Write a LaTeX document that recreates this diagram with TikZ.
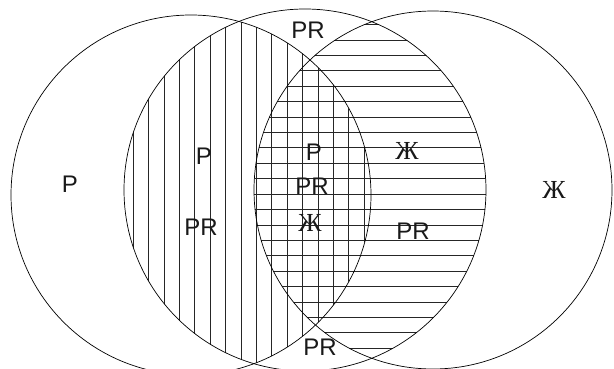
\documentclass[tikz,border=0pt]{standalone}
\usepackage{fontspec}
\setmainfont{Liberation Sans}
\newfontfamily\zhefont{Liberation Serif}

\tikzset{
  ring/.style={draw=black, line width=0.7pt},
  hatch/.style={draw=black!85, line width=0.6pt},
  lbl/.style={inner sep=0pt, text=black!90, font=\fontsize{24}{24}\selectfont},
  zhe/.style={inner sep=0pt, text=black!90, font=\zhefont\fontsize{26}{26}\selectfont},
}

\begin{document}
\begin{tikzpicture}[x=1pt, y=-1pt]
  \useasboundingbox (0,0) rectangle (614,369);
  \fill[white] (0,0) rectangle (614,369);
  \clip (0,0) rectangle (614,369);
  \coordinate (lc) at (191,195);
  \coordinate (mc) at (305,190);
  \coordinate (rc) at (433,190);

  % vertical hatching: left and middle ring
  \begin{scope}
    \clip (lc) circle[radius=180pt];
    \clip (mc) circle[radius=181pt];
    \foreach \i in {0,...,15}
      \draw[hatch] (133+15.4*\i,0) -- (133+15.4*\i,369);
  \end{scope}
  % horizontal hatching: middle and right ring
  \begin{scope}
    \clip (mc) circle[radius=181pt];
    \clip (rc) circle[radius=179pt];
    \foreach \j in {-1,...,20}
      \draw[hatch] (0,40+15.4*\j) -- (614,40+15.4*\j);
  \end{scope}

  \draw[ring] (lc) circle[radius=180pt];
  \draw[ring] (mc) circle[radius=181pt];
  \draw[ring] (rc) circle[radius=179pt];

  \node[lbl] (pleft) at (70,184) {P};
  \node[lbl] (pvert) at (204,156) {P};
  \node[lbl] (prvert) at (201,227) {PR};
  \node[lbl] (pmid) at (314,152) {P};
  \node[lbl] (prmid) at (312,186) {PR};
  \node[zhe] (zhmid) at (310,223) {Ж};
  \node[zhe] (zhhor) at (407,151) {Ж};
  \node[lbl] (prhor) at (413,231) {PR};
  \node[zhe] (zhright) at (554,190) {Ж};
  \node[lbl] (prtop) at (308,30) {PR};
  \node[lbl] (prbot) at (320,347) {PR};
\end{tikzpicture}
\end{document}
